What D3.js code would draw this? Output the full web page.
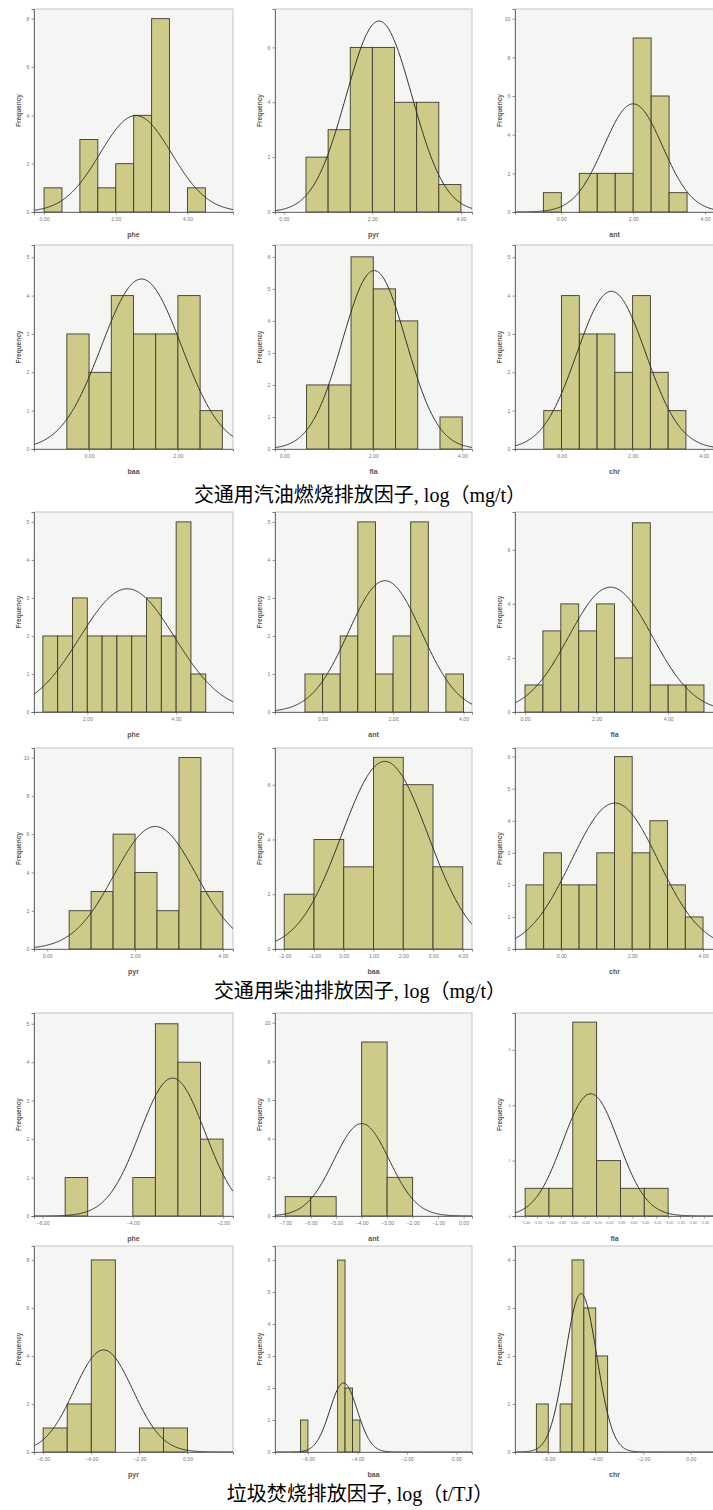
<!DOCTYPE html>
<html>
<head>
<meta charset="utf-8">
<script src="https://cdn.jsdelivr.net/npm/d3@7"></script>
<style>
  body { margin: 0; background: #fff; }
  svg { display: block; }
</style>
</head>
<body>
<svg id="chart" width="713" height="1510"></svg>
<script>
// ---- data ---------------------------------------------------------------
const groupCaptions = [
  "交通用汽油燃烧排放因子, log（mg/t）",
  "交通用柴油排放因子, log（mg/t）",
  "垃圾焚烧排放因子, log（t/TJ）"
];

// variable shown in each panel (row-major, 3 per row, 2 rows per group)
const panelVars = [
  "phe", "pyr", "ant", "baa", "fla", "chr",
  "phe", "ant", "fla", "pyr", "baa", "chr",
  "phe", "ant", "fla", "pyr", "baa", "chr"
];

// histogram bins: first edge, width and counts
const binStart = [0, 0.5, -0.5, -0.5, 0.5, -0.5,
                  1, -0.5, 0, 0.5, -2, -1,
                  -5.5, -7, -5.4, -6, -6.3, -6.5];
const binWidth = [0.5, 0.5, 0.5, 0.5, 0.5, 0.5,
                  1 / 3, 0.5, 0.5, 0.5, 1, 0.5,
                  0.5, 1, 0.4, 1, 0.3, 0.5];
const binCounts = [
  [1, 0, 3, 1, 2, 4, 8, 0, 1],
  [2, 3, 6, 6, 4, 4, 1],
  [1, 0, 2, 2, 2, 9, 6, 1],
  [3, 2, 4, 3, 3, 4, 1],
  [2, 2, 6, 5, 4, 0, 1],
  [1, 4, 3, 3, 2, 4, 2, 1],
  [2, 2, 3, 2, 2, 2, 2, 3, 2, 5, 1],
  [1, 1, 2, 5, 1, 2, 5, 0, 1],
  [1, 3, 4, 3, 4, 2, 7, 1, 1, 1],
  [2, 3, 6, 4, 2, 10, 3],
  [2, 4, 3, 7, 6, 3],
  [2, 3, 2, 2, 3, 6, 3, 4, 2, 1],
  [1, 0, 0, 1, 5, 4, 2],
  [1, 1, 0, 9, 2],
  [1, 1, 7, 2, 1, 1],
  [1, 2, 8, 0, 1, 1],
  [1, 0, 0, 0, 0, 6, 2, 1],
  [1, 0, 1, 4, 3, 2]
];

// fitted normal curve parameters (mean, standard deviation)
const fitMean = [2.56, 2.15, 2.0, 1.18, 2.02, 1.40,
                 2.90, 1.77, 2.39, 2.46, 1.38, 1.51,
                 -3.12, -4.0, -4.30, -3.49, -4.56, -4.62];
const fitSD = [1.0, 0.745, 0.82, 0.90, 0.716, 0.97,
               1.067, 1.04, 1.166, 0.935, 1.456, 1.227,
               0.723, 1.085, 0.47, 1.22, 0.554, 0.665];

// axis extents and tick labels
const xExtent = [
  [-0.28, 5.27], [-0.2, 4.25], [-1.29, 4.25],
  [-1.24, 3.24], [-0.21, 4.22], [-1.31, 4.29],
  [0.8, 5.28], [-1.35, 4.24], [-0.28, 5.28],
  [-0.30, 4.23], [-2.31, 4.31], [-1.31, 4.31],
  [-6.19, -1.78], [-7.4, 0.33], [-5.57, -2.23],
  [-6.38, 1.89], [-7.33, 0.63], [-7.4, 0.98]
];
const xTickValues = [
  [0, 2, 4], [0, 2, 4], [0, 2, 4],
  [0, 2], [0, 2, 4], [0, 2, 4],
  [2, 4], [0, 2, 4], [0, 2, 4],
  [0, 2, 4], [-2, -1, 0, 1, 2, 3, 4], [0, 2, 4],
  [-6, -4, -2], [-7, -6, -5, -4, -3, -2, -1, 0],
  [-5.4, -5.2, -5.0, -4.8, -4.6, -4.4, -4.2, -4.0, -3.8, -3.6, -3.4, -3.2, -3.0, -2.8, -2.6, -2.4],
  [-6, -4, -2, 0], [-6, -4, -2, 0], [-6, -4, -2, 0]
];
const yTop = [8.4, 7.4, 10.5, 5.32, 6.37, 5.32,
              5.26, 5.26, 7.4, 10.5, 7.34, 6.27,
              5.28, 10.5, 7.33, 8.58, 6.44, 4.29];
const yTickStep = [2, 2, 2, 1, 1, 1,
                   1, 1, 2, 2, 2, 1,
                   1, 2, 2, 2, 1, 1];

// ---- layout -------------------------------------------------------------
const colX = [[34, 233], [275, 472], [515, 714]];
const rowY = [[9, 212], [245, 449], [512, 712], [748, 949], [1013, 1216], [1246, 1452]];
const captionY = [502, 998, 1501];

const svg = d3.select("#chart");
const fmtX = d3.format(".2f");

panelVars.forEach((name, i) => {
  const r = Math.floor(i / 3), c = i % 3;
  const [x0, x1] = colX[c];
  const [y0, y1] = rowY[r];
  const x = d3.scaleLinear().domain(xExtent[i]).range([x0, x1]);
  const y = d3.scaleLinear().domain([0, yTop[i]]).range([y1, y0]);
  const g = svg.append("g");

  const clipId = "clip" + i;
  svg.append("clipPath").attr("id", clipId)
    .append("rect").attr("x", x0).attr("y", y0).attr("width", x1 - x0).attr("height", y1 - y0);

  // plot area
  g.append("rect")
    .attr("x", x0).attr("y", y0).attr("width", x1 - x0).attr("height", y1 - y0)
    .attr("fill", "#f5f5f3").attr("stroke", "#c4c4c4").attr("stroke-width", 1);

  // bars
  const bins = binCounts[i].map((cnt, k) => ({
    a: binStart[i] + k * binWidth[i],
    b: binStart[i] + (k + 1) * binWidth[i],
    cnt
  })).filter(d => d.cnt > 0);

  g.append("g").selectAll("rect").data(bins).join("rect")
    .attr("x", d => x(d.a))
    .attr("width", d => x(d.b) - x(d.a))
    .attr("y", d => y(d.cnt))
    .attr("height", d => y(0) - y(d.cnt))
    .attr("fill", "#cecb89")
    .attr("stroke", "#3b3b30")
    .attr("stroke-width", 0.9);

  // normal curve scaled to the histogram
  const n = d3.sum(binCounts[i]);
  const mu = fitMean[i], sd = fitSD[i];
  const k = n * binWidth[i] / (sd * Math.sqrt(2 * Math.PI));
  const xs = d3.range(0, 301).map(t => xExtent[i][0] + (xExtent[i][1] - xExtent[i][0]) * t / 300);
  const curve = xs.map(v => [v, k * Math.exp(-0.5 * ((v - mu) / sd) ** 2)]);
  g.append("path")
    .attr("clip-path", `url(#${clipId})`)
    .attr("d", d3.line().x(d => x(d[0])).y(d => y(d[1]))(curve))
    .attr("fill", "none")
    .attr("stroke", "#2e2e2e")
    .attr("stroke-width", 1);

  // axes
  const yTicks = d3.range(0, yTop[i] + 1e-9, yTickStep[i]);
  const ya = g.append("g").attr("transform", `translate(${x0},0)`)
    .call(d3.axisLeft(y).tickValues(yTicks).tickSize(2.5).tickPadding(2).tickFormat(d3.format("d")));
  const xa = g.append("g").attr("transform", `translate(0,${y1})`)
    .call(d3.axisBottom(x).tickValues(xTickValues[i]).tickSize(2.5).tickPadding(3)
      .tickFormat(v => fmtX(v)));
  [ya, xa].forEach(a => {
    a.select(".domain").attr("stroke", "#555").attr("stroke-width", 0.8);
    a.selectAll(".tick line").attr("stroke", "#666").attr("stroke-width", 0.7);
    a.selectAll(".tick text").attr("fill", "#777")
      .attr("font-family", "Liberation Sans, Arial, sans-serif")
      .attr("font-size", i === 14 ? 3.6 : 5.2);
  });

  // axis titles
  g.append("text")
    .attr("transform", `translate(${x0 - 13},${(y0 + y1) / 2}) rotate(-90)`)
    .attr("text-anchor", "middle")
    .attr("font-family", "Liberation Sans, Arial, sans-serif")
    .attr("font-size", 6.5).attr("font-weight", "bold").attr("fill", "#555")
    .text("Frequency");
  g.append("text")
    .attr("x", (x0 + x1) / 2).attr("y", y1 + 25)
    .attr("text-anchor", "middle")
    .attr("font-family", "Liberation Sans, Arial, sans-serif")
    .attr("font-size", 7).attr("font-weight", "bold").attr("fill", "#555")
    .text(name);
});

// group captions
groupCaptions.forEach((t, j) => {
  svg.append("text")
    .attr("x", 360).attr("y", captionY[j])
    .attr("text-anchor", "middle")
    .attr("font-family", "Liberation Serif, 'Times New Roman', 'Noto Sans CJK SC', serif")
    .attr("font-size", 20).attr("fill", "#000")
    .text(t);
});
</script>
</body>
</html>
